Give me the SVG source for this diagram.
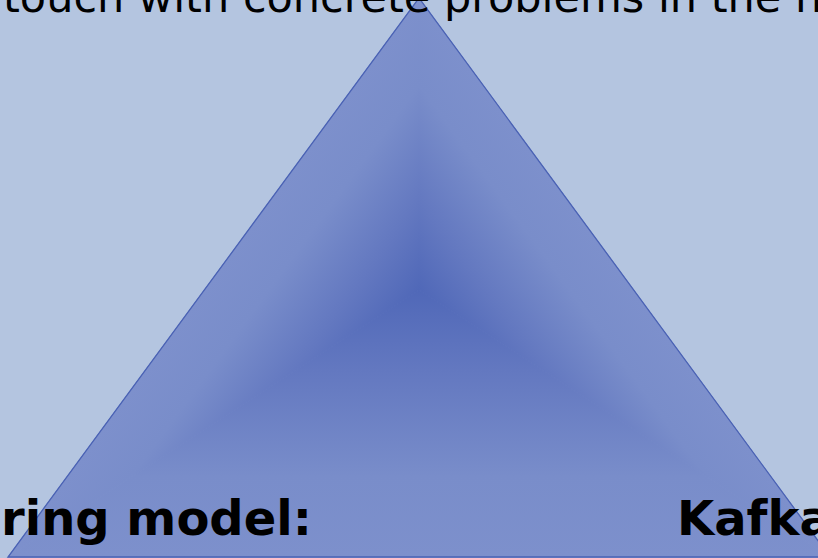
<svg xmlns="http://www.w3.org/2000/svg" width="818" height="558" viewBox="0 0 818 558">
  <defs>
    <linearGradient id="gBottom" gradientUnits="userSpaceOnUse" x1="419" y1="557" x2="419" y2="290">
      <stop offset="0" stop-color="#7d90cc"/>
      <stop offset="0.3" stop-color="#798dca"/>
      <stop offset="0.7" stop-color="#6378c0"/>
      <stop offset="1" stop-color="#5068b8"/>
    </linearGradient>
    <linearGradient id="gLeft" gradientUnits="userSpaceOnUse" x1="279.6" y1="187.6" x2="419" y2="290">
      <stop offset="0" stop-color="#7d90cc"/>
      <stop offset="0.3" stop-color="#798dca"/>
      <stop offset="0.7" stop-color="#6378c0"/>
      <stop offset="1" stop-color="#5068b8"/>
    </linearGradient>
    <linearGradient id="gRight" gradientUnits="userSpaceOnUse" x1="558.4" y1="187.6" x2="419" y2="290">
      <stop offset="0" stop-color="#7d90cc"/>
      <stop offset="0.3" stop-color="#798dca"/>
      <stop offset="0.7" stop-color="#6378c0"/>
      <stop offset="1" stop-color="#5068b8"/>
    </linearGradient>
  </defs>
  <style>
    .title { font-family: "DejaVu Sans", Verdana, sans-serif; font-size: 43px; fill: #000; }
    .label { font-family: "DejaVu Sans", Verdana, sans-serif; font-size: 48px; font-weight: bold; fill: #000; }
  </style>
  <rect id="background" x="0" y="0" width="818" height="558" fill="#b4c5e0"/>
  <g id="triangle">
    <polygon points="419,-2 8,557 419,290" fill="url(#gLeft)" stroke="url(#gLeft)" stroke-width="1"/>
    <polygon points="419,-2 830,557 419,290" fill="url(#gRight)" stroke="url(#gRight)" stroke-width="1"/>
    <polygon points="8,557 830,557 419,290" fill="url(#gBottom)" stroke="url(#gBottom)" stroke-width="1"/>
    <polygon points="419,-2 8,557 830,557" fill="none" stroke="#4a62b4" stroke-width="1.3"/>
  </g>
  <g id="texts">
    <text class="title" x="3" y="12">touch with concrete problems in the n</text>
    <text class="label" x="1" y="535">ring model:</text>
    <text class="label" x="677" y="535">Kafka</text>
  </g>
</svg>
